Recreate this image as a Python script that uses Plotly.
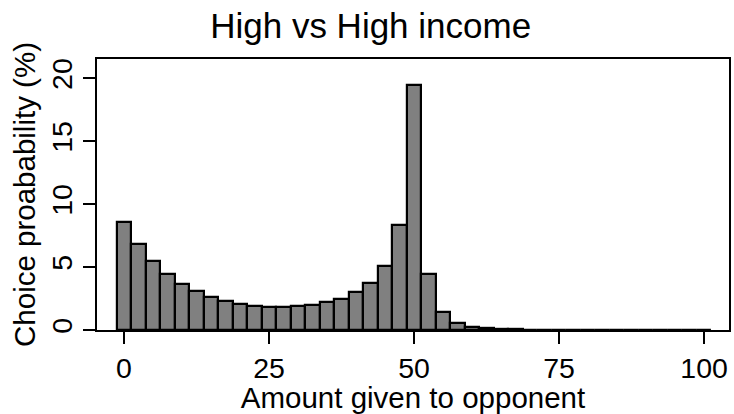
import plotly.graph_objects as go

# Bin centres (amount given to opponent), bin width 2.5
amounts = [i * 2.5 for i in range(41)]
# Choice probability (%) per bin
probability = [
    8.56, 6.86, 5.48, 4.45, 3.66, 3.10, 2.62, 2.33, 2.07, 1.91,
    1.83, 1.80, 1.90, 1.99, 2.20, 2.49, 2.99, 3.71, 5.06, 8.37,
    19.45, 4.45, 1.43, 0.53, 0.27, 0.13, 0.08, 0.05, 0.04, 0.03,
    0.03, 0.03, 0.03, 0.03, 0.03, 0.03, 0.03, 0.03, 0.03, 0.03,
    0.03,
]
x_ticks = [0, 25, 50, 75, 100]
y_ticks = [0, 5, 10, 15, 20]

FONT = "Liberation Sans, Arial, sans-serif"

fig = go.Figure(
    go.Bar(
        x=amounts,
        y=probability,
        width=2.5,
        marker=dict(color="#808080", line=dict(color="black", width=2.2)),
    )
)

fig.update_layout(
    width=734,
    height=414,
    margin=dict(l=97, r=5, t=59, b=84),
    paper_bgcolor="white",
    plot_bgcolor="white",
    showlegend=False,
    bargap=0,
    font=dict(family=FONT, color="black", size=29),
    title=dict(
        text="High vs High income",
        font=dict(family=FONT, size=35, color="black"),
        x=0.505,
        xref="container",
        xanchor="center",
        y=0.937,
        yref="container",
        yanchor="middle",
    ),
)

fig.update_xaxes(
    range=[-4.65, 104.3],
    tickvals=x_ticks,
    ticks="outside",
    ticklen=12,
    tickwidth=1.5,
    tickcolor="black",
    showline=True,
    linecolor="black",
    linewidth=1.5,
    mirror=True,
    showgrid=False,
    zeroline=False,
    automargin=False,
    tickfont=dict(size=28.5),
    title=dict(text="Amount given to opponent", font=dict(size=29.5), standoff=2),
)
fig.update_yaxes(
    range=[0, 21.54],
    tickvals=y_ticks,
    ticks="outside",
    ticklen=12,
    tickwidth=1.5,
    tickcolor="black",
    showline=True,
    linecolor="black",
    linewidth=1.5,
    mirror=True,
    showgrid=False,
    zeroline=False,
    automargin=False,
    tickangle=-90,
    tickfont=dict(size=28.5),
    title=dict(text="Choice proabability (%)", font=dict(size=29.5), standoff=2),
)

fig.write_html(
    "out.html",
    config={"displayModeBar": False},
    post_script="document.body.style.margin='0';",
)
